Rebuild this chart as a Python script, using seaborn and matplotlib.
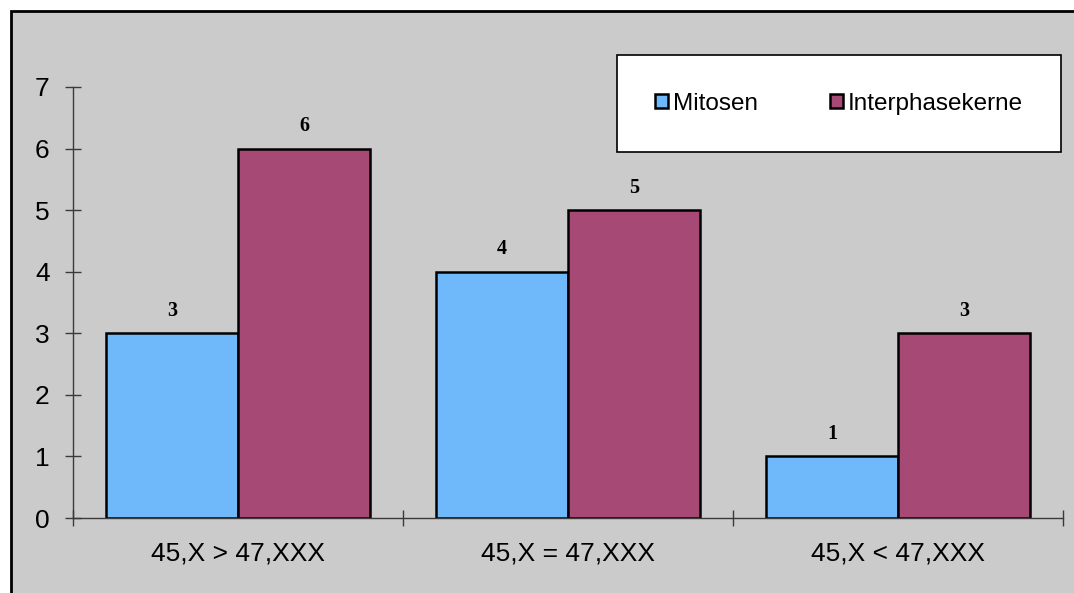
import matplotlib
matplotlib.use("Agg")
import matplotlib.pyplot as plt
from matplotlib.patches import Rectangle
from matplotlib.ticker import FixedLocator
import seaborn as sns
import pandas as pd

# Data
groups = ["45,X > 47,XXX", "45,X = 47,XXX", "45,X < 47,XXX"]
mitosen = [3, 4, 1]
interphasekerne = [6, 5, 3]
series_names = ["Mitosen", "Interphasekerne"]
y_ticks = [0, 1, 2, 3, 4, 5, 6, 7]

df = pd.DataFrame({
    "Gruppe": groups * 2,
    "Anzahl": mitosen + interphasekerne,
    "Kern": [series_names[0]] * len(groups) + [series_names[1]] * len(groups),
})

colors = ["#6fb9fb", "#a64975"]
bg_grey = "#cbcbcb"
axis_col = "#3a3a3a"

sns.set_style("white")
plt.rcParams["font.family"] = ["Liberation Sans", "DejaVu Sans"]
plt.rcParams["text.color"] = "black"

W, H = 1074, 593
fig = plt.figure(figsize=(W / 100, H / 100), dpi=100)
fig.patch.set_facecolor("white")

# Grey chart area with a black frame (open to the right and bottom)
frame = Rectangle((10.5 / W, -0.1), 1.2, (H - 11.5) / H + 0.1,
                  transform=fig.transFigure, facecolor=bg_grey,
                  edgecolor="black", linewidth=2.0, zorder=-1)
fig.patches.append(frame)

ax = fig.add_axes([73 / W, 75 / H, 990 / W, (518 - 87) / H])
ax.set_facecolor("none")
ax.set_zorder(1)

sns.barplot(data=df, x="Gruppe", y="Anzahl", hue="Kern", order=groups,
            hue_order=series_names, palette=colors, width=0.8,
            edgecolor="black", linewidth=1.8, saturation=1, ax=ax)

ax.set_xlim(-0.5, len(groups) - 0.5)
ax.set_ylim(0, 7)
ax.set_yticks(y_ticks)
ax.set_xlabel("")
ax.set_ylabel("")

for side in ["top", "right"]:
    ax.spines[side].set_visible(False)
for side in ["left", "bottom"]:
    ax.spines[side].set_color(axis_col)
    ax.spines[side].set_linewidth(1.0)

ax.tick_params(axis="y", left=True, direction="inout", length=11.5, width=1.0,
               color=axis_col, labelsize=19, pad=11, labelcolor="black")
ax.tick_params(axis="x", which="major", bottom=True, length=0, labelsize=19,
               pad=17, labelcolor="black")
ax.xaxis.set_minor_locator(FixedLocator([-0.5 + i for i in range(len(groups) + 1)]))
ax.tick_params(axis="x", which="minor", bottom=True, direction="inout",
               length=11, width=1.0, color=axis_col)

# Value labels above the bars
for container in ax.containers:
    ax.bar_label(container, fmt="%d", padding=9,
                 fontsize=14.5, fontweight="bold", color="black",
                 family=["Liberation Serif", "DejaVu Serif"])

# Legend in a white box
handles, labels = ax.get_legend_handles_labels()
for h in handles:
    h.set_edgecolor("black")
    h.set_linewidth(1.8)
if ax.get_legend() is not None:
    ax.get_legend().remove()
leg = fig.legend(handles, labels, loc="upper left",
                 bbox_to_anchor=(617 / W, (H - 55) / H, 444 / W, 0),
                 mode="expand", ncol=2, fontsize=17.5, frameon=True,
                 fancybox=False, edgecolor="black", facecolor="white",
                 framealpha=1, borderpad=1.55, handlelength=0.55,
                 handleheight=0.55, handletextpad=0.2, borderaxespad=0)
leg.get_frame().set_linewidth(1.2)
for t in leg.get_texts():
    t.set_color("black")

fig.savefig("out.png", dpi=100, facecolor=fig.get_facecolor())
